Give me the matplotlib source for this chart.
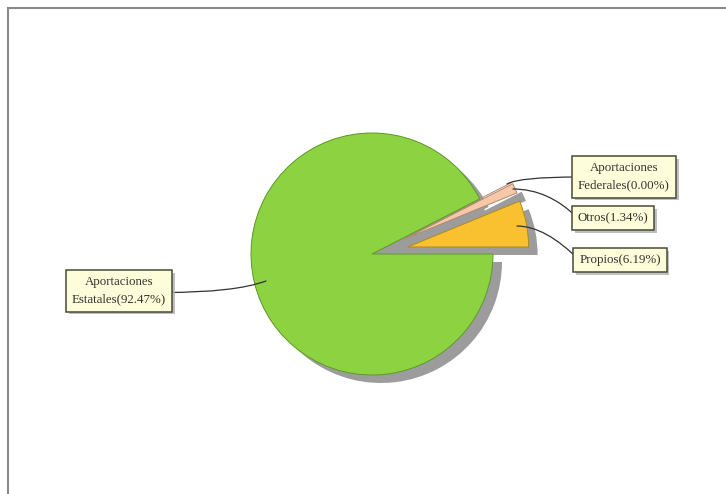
import matplotlib
matplotlib.use("Agg")
import matplotlib.pyplot as plt
import matplotlib.patheffects as pe

# ---- data ----
names = ["Propios", "Otros", "Aportaciones\nFederales", "Aportaciones\nEstatales"]
values = [6.19, 1.34, 0.00, 92.47]
colors = ["#F9C02F", "#F6C8A8", "#F6C8A8", "#8DD241"]
edges = ["#B08A20", "#B08870", "#B08870", "#5E9A2A"]
explode = [0.3, 0.3, 0.3, 0.0]

W, H = 726, 494
fig = plt.figure(figsize=(W / 100, H / 100), dpi=100)
ax = fig.add_axes([0, 0, 1, 1])

cx, cy, R = 372, H - 254, 121
shadow = "#9C9C9C"
expl_px = [e * R for e in explode]

# shadow layer (offset)
ax.pie(values, radius=R, center=(cx + 9, cy - 8), startangle=0, explode=expl_px,
       colors=[shadow] * len(values), wedgeprops=dict(linewidth=0), normalize=True)
# depth fill at unexploded position
ax.pie(values, radius=R, center=(cx, cy), startangle=0,
       colors=[shadow] * len(values), wedgeprops=dict(linewidth=0), normalize=True)
# main pie
wedges, _ = ax.pie(values, radius=R, center=(cx, cy), startangle=0, explode=expl_px,
                   colors=colors, wedgeprops=dict(linewidth=0.7), normalize=True)
for w, ec in zip(wedges, edges):
    w.set_edgecolor(ec)

ax.set_xlim(0, W)
ax.set_ylim(0, H)
ax.set_aspect("equal")
ax.axis("off")

# frame lines (top and left)
ax.plot([7, W], [H - 8, H - 8], color="#8A8A8A", lw=1.5, solid_capstyle="butt")
ax.plot([8, 8], [0, H - 8], color="#8A8A8A", lw=1.5, solid_capstyle="butt")

# labels: (text position in image px, anchor point in image px, connection, relpos)
label_layout = {
    "Aportaciones\nEstatales": ((119, 291), (266, 281), "angle3,angleA=0,angleB=20", (1, 0.45)),
    "Aportaciones\nFederales": ((624, 177), (507, 184), "angle3,angleA=0,angleB=30", (0, 0.5)),
    "Otros": ((613, 218), (513, 189), "angle3,angleA=-45,angleB=0", (0, 0.5)),
    "Propios": ((620, 260), (517, 226), "angle3,angleA=-45,angleB=0", (0, 0.5)),
}

for name, v in zip(names, values):
    (tx, ty), (px, py), conn, rp = label_layout[name]
    txt = f"{name}({v:.2f}%)"
    t = ax.annotate(
        txt, xy=(px, H - py), xytext=(tx, H - ty),
        ha="center", va="center", fontsize=9.3, family="Liberation Serif", color="#333333",
        linespacing=1.6,
        bbox=dict(boxstyle="square,pad=0.45", facecolor="#FDFDD9", edgecolor="#4A4A38", linewidth=1.1),
        arrowprops=dict(arrowstyle="-", color="#333333", lw=0.9, relpos=rp, patchA=None,
                        connectionstyle=conn, shrinkA=0, shrinkB=0),
        zorder=5,
    )
    t.get_bbox_patch().set_path_effects([
        pe.SimplePatchShadow(offset=(2, -2), shadow_rgbFace="#B0B0B0", alpha=0.8), pe.Normal()
    ])

fig.savefig("out.png", dpi=100, facecolor="white")
